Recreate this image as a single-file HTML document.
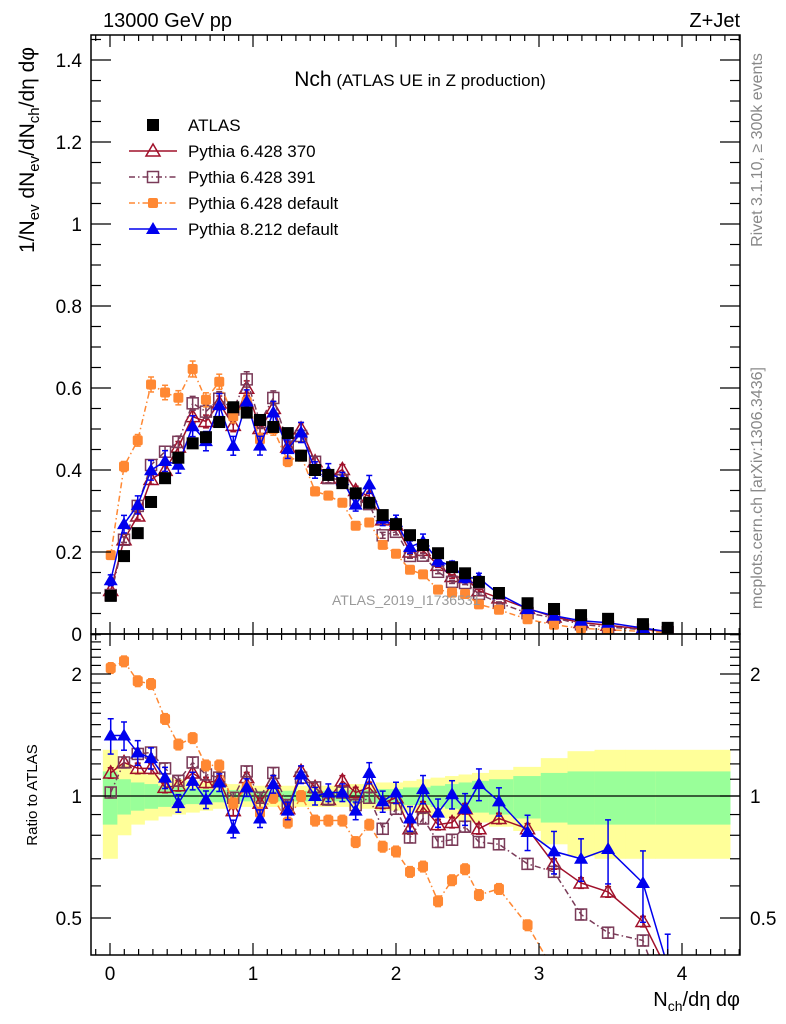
<!DOCTYPE html>
<html><head><meta charset="utf-8"><style>
body{margin:0;background:#fff}
svg{display:block;font-family:"Liberation Sans",sans-serif}
</style></head><body>
<svg id="c" width="786" height="1024" viewBox="0 0 786 1024" xmlns="http://www.w3.org/2000/svg">
<defs>
<clipPath id="cm"><rect x="91" y="35" width="649" height="599"/></clipPath>
<clipPath id="cr"><rect x="91" y="634" width="649" height="321"/></clipPath>
</defs>
<g id="bands" clip-path="url(#cr)"></g>
<g id="ratioLine"></g>
<g id="series"></g>
<g id="axes"></g>
<text x="103" y="27" font-size="20">13000 GeV pp</text>
<text x="740" y="27" font-size="20" text-anchor="end">Z+Jet</text>
<text x="420" y="86" text-anchor="middle"><tspan font-size="21">Nch</tspan><tspan font-size="17"> (ATLAS UE in Z production)</tspan></text>
<text x="332" y="605" font-size="14" fill="#999">ATLAS_2019_I1736531</text>
<text transform="translate(34,150) rotate(-90)" text-anchor="middle" font-size="21">1/N<tspan font-size="15" dy="5">ev</tspan><tspan dy="-5"> dN</tspan><tspan font-size="15" dy="5">ev</tspan><tspan dy="-5">/dN</tspan><tspan font-size="15" dy="5">ch</tspan><tspan dy="-5">/dη dφ</tspan></text>
<text transform="translate(37,795) rotate(-90)" text-anchor="middle" font-size="15">Ratio to ATLAS</text>
<text x="740" y="1006" text-anchor="end" font-size="20">N<tspan font-size="14" dy="5">ch</tspan><tspan dy="-5">/dη dφ</tspan></text>
<text transform="translate(762,150) rotate(-90)" text-anchor="middle" font-size="16" fill="#888">Rivet 3.1.10, ≥ 300k events</text>
<text transform="translate(762,488) rotate(-90)" text-anchor="middle" font-size="16" fill="#888">mcplots.cern.ch [arXiv:1306.3436]</text>
<g id="legend"></g>
</svg>
<script>
const xs=[0.005,0.098,0.194,0.287,0.385,0.478,0.578,0.671,0.764,0.862,0.956,1.049,1.142,1.243,1.336,1.434,1.527,1.625,1.718,1.813,1.907,2.0,2.098,2.189,2.294,2.392,2.483,2.58,2.72,2.92,3.105,3.294,3.483,3.727,3.9];
const atlas=[0.093,0.19,0.246,0.322,0.38,0.43,0.465,0.48,0.517,0.553,0.54,0.522,0.505,0.49,0.435,0.40,0.388,0.368,0.343,0.32,0.29,0.268,0.241,0.217,0.197,0.163,0.148,0.127,0.1,0.075,0.061,0.046,0.037,0.024,0.015];
const r370=[1.14,1.21,1.17,1.17,1.05,1.06,1.14,1.08,1.09,0.92,1.11,0.96,1.09,0.93,1.15,1.05,0.98,1.09,1.02,1.05,0.96,0.99,0.83,0.94,0.85,0.86,0.93,0.83,0.88,0.83,0.68,0.61,0.58,0.49,0.37];
const r391=[1.02,1.21,1.27,1.28,1.17,1.09,1.21,1.13,1.11,0.99,1.15,0.99,1.14,0.95,1.11,1.05,0.98,1.02,0.95,0.99,0.83,0.93,0.79,0.88,0.77,0.78,0.84,0.77,0.76,0.68,0.65,0.51,0.46,0.44,0.3];
const rdef6=[2.07,2.15,1.92,1.89,1.55,1.34,1.39,1.19,1.19,0.96,1.05,0.91,0.99,0.86,1.0,0.87,0.87,0.87,0.77,0.85,0.75,0.73,0.65,0.67,0.55,0.62,0.66,0.57,0.59,0.48,0.37,0.3,0.28,0.26,0.24];
const rp8=[1.41,1.41,1.28,1.24,1.11,0.96,1.09,0.98,1.08,0.83,1.05,0.88,1.07,0.92,1.13,1.0,1.02,1.02,0.92,1.14,0.97,1.02,0.88,1.04,0.91,1.01,0.93,1.07,0.97,0.815,0.73,0.70,0.74,0.61,0.38];
const errp8=[0.1,0.08,0.07,0.06,0.06,0.05,0.05,0.05,0.05,0.05,0.05,0.05,0.05,0.05,0.05,0.05,0.05,0.05,0.05,0.06,0.06,0.06,0.07,0.08,0.08,0.08,0.09,0.09,0.08,0.1,0.12,0.12,0.18,0.2,0.2];
const bandY=[0.3,0.2,0.15,0.13,0.11,0.1,0.09,0.08,0.07,0.07,0.06,0.06,0.06,0.06,0.06,0.06,0.06,0.06,0.07,0.07,0.08,0.08,0.09,0.1,0.11,0.12,0.13,0.14,0.16,0.18,0.24,0.29,0.3,0.3,0.3];
const bandG=[0.15,0.1,0.08,0.07,0.06,0.05,0.045,0.04,0.035,0.035,0.03,0.03,0.03,0.03,0.03,0.03,0.03,0.03,0.035,0.035,0.04,0.04,0.05,0.05,0.06,0.07,0.08,0.09,0.1,0.12,0.14,0.15,0.15,0.15,0.15];
const mainTicks=[0,0.2,0.4,0.6,0.8,1,1.2,1.4];
const ratioTicks=[0.5,1,2];
const xTicks=[0,1,2,3,4];

const NS="http://www.w3.org/2000/svg";
const sx=x=>110+143*x;
const sy=v=>634-410*v;
const ry=r=>796-122*Math.log2(r);
function mk(tag,at,parent){const e=document.createElementNS(NS,tag);for(const k in at)e.setAttribute(k,at[k]);parent.appendChild(e);return e;}
const axes=document.getElementById('axes');
const ser=document.getElementById('series');

const bands=document.getElementById('bands');
for(let i=0;i<xs.length;i++){
  const l=i==0?sx(-0.05):(sx(xs[i-1])+sx(xs[i]))/2;
  const r=i==xs.length-1?730:(sx(xs[i])+sx(xs[i+1]))/2;
  const y=mk('rect',{x:l,y:ry(1+bandY[i]),width:r-l+0.5,height:ry(1-bandY[i])-ry(1+bandY[i]),fill:'#ffff99'},bands);
  
  
  const g=mk('rect',{x:l,y:ry(1+bandG[i]),width:r-l+0.5,height:ry(1-bandG[i])-ry(1+bandG[i]),fill:'#99ff99'},bands);
  
  
}
mk('line',{x1:91,x2:740,y1:ry(1),y2:ry(1),stroke:'#000','stroke-width':1.2},document.getElementById('ratioLine'));

function marker(g,type,cx,cy,col){
  let m;
  if(type=='fsq')m=mk('rect',{x:cx-6,y:cy-6,width:12,height:12,fill:col},g);
  if(type=='osq')m=mk('rect',{x:cx-5.5,y:cy-5.5,width:11,height:11,fill:'none',stroke:col,'stroke-width':1.5},g);
  if(type=='osm')m=mk('rect',{x:cx-5,y:cy-5,width:10,height:10,rx:2,fill:col},g);
  if(type=='otri')m=mk('polygon',{points:`${cx},${cy-7} ${cx-7},${cy+5} ${cx+7},${cy+5}`,fill:'none',stroke:col,'stroke-width':1.5},g);
  if(type=='ftri')m=mk('polygon',{points:`${cx},${cy-7} ${cx-7},${cy+5} ${cx+7},${cy+5}`,fill:col},g);
  return m;
}
const defs=[
 {name:'pythia-6428-370',r:r370,col:'#a0102a',type:'otri',dash:'',err:null},
 {name:'pythia-6428-391',r:r391,col:'#7a3a58',type:'osq',dash:'6,3,1.5,3',err:null},
 {name:'pythia-6428-default',r:rdef6,col:'#ff8833',type:'osm',dash:'6,3,1.5,3',err:null},
 {name:'pythia-8212-default',r:rp8,col:'#0000ee',type:'ftri',dash:'',err:errp8}
];
const ga=mk('g',{'clip-path':'url(#cm)'},ser);


defs.forEach(d=>{
  const gm=mk('g',{'clip-path':'url(#cm)'},ser);
  
  
  const gr=mk('g',{'clip-path':'url(#cr)'},ser);
  
  
  const pm=xs.map((x,i)=>sx(x)+','+sy(atlas[i]*d.r[i])).join(' ');
  const pr=xs.map((x,i)=>sx(x)+','+ry(d.r[i])).join(' ');
  mk('polyline',{points:pm,fill:'none',stroke:d.col,'stroke-width':1.5,'stroke-dasharray':d.dash},gm);
  mk('polyline',{points:pr,fill:'none',stroke:d.col,'stroke-width':1.5,'stroke-dasharray':d.dash},gr);
  xs.forEach((x,i)=>{
    const e=d.err?d.err[i]:0.03;
    const cx=sx(x);
    const v=atlas[i]*d.r[i];
    mk('line',{x1:cx,x2:cx,y1:ry(d.r[i]*(1+e)),y2:ry(d.r[i]*(1-e)),stroke:d.col,'stroke-width':1.5},gr);
    mk('line',{x1:cx-3,x2:cx+3,y1:ry(d.r[i]*(1+e)),y2:ry(d.r[i]*(1+e)),stroke:d.col,'stroke-width':1.5},gr);
    mk('line',{x1:cx-3,x2:cx+3,y1:ry(d.r[i]*(1-e)),y2:ry(d.r[i]*(1-e)),stroke:d.col,'stroke-width':1.5},gr);
    mk('line',{x1:cx,x2:cx,y1:sy(v*(1+e)),y2:sy(v*(1-e)),stroke:d.col,'stroke-width':1.5},gm);
    mk('line',{x1:cx-3,x2:cx+3,y1:sy(v*(1+e)),y2:sy(v*(1+e)),stroke:d.col,'stroke-width':1.5},gm);
    mk('line',{x1:cx-3,x2:cx+3,y1:sy(v*(1-e)),y2:sy(v*(1-e)),stroke:d.col,'stroke-width':1.5},gm);
    const m1=marker(gm,d.type,cx,sy(v),d.col);
    
    
    const m2=marker(gr,d.type,cx,ry(d.r[i]),d.col);
    
    
  });
});
xs.forEach((x,i)=>{const m=marker(ga,'fsq',sx(x),sy(atlas[i]),'#000');

});
ser.appendChild(ga);

mk('rect',{x:91,y:35,width:649,height:599,fill:'none',stroke:'#000','stroke-width':1.5},axes);
mk('rect',{x:91,y:634,width:649,height:321,fill:'none',stroke:'#000','stroke-width':1.5},axes);
for(let k=-1;k<=44;k++){
  const x=sx(k/10);if(x<91||x>740)continue;
  const major=k%10==0;const L=major?12:6;
  [35,634].forEach(y0=>mk('line',{x1:x,x2:x,y1:y0,y2:y0+L,stroke:'#000','stroke-width':1.2},axes));
  [634,955].forEach(y0=>mk('line',{x1:x,x2:x,y1:y0,y2:y0-L,stroke:'#000','stroke-width':1.2},axes));
}
xTicks.forEach(t=>{const e=mk('text',{x:sx(t),y:980,'font-size':19,'text-anchor':'middle'},axes);e.textContent=t;

});
for(let k=0;k<=29;k++){
  const y=sy(k*0.05);if(y<35)continue;const L=k%4==0?20:10;
  mk('line',{x1:91,x2:91+L,y1:y,y2:y,stroke:'#000','stroke-width':1.2},axes);
  mk('line',{x1:740,x2:740-L,y1:y,y2:y,stroke:'#000','stroke-width':1.2},axes);
}
mainTicks.forEach(t=>{const e=mk('text',{x:82,y:sy(t)+7,'font-size':19,'text-anchor':'end'},axes);e.textContent=t;

});
for(let k=4;k<=25;k++){
  const r=k/10;const y=ry(r);if(y<634||y>955)continue;
  const L=(k==5||k==10||k==20)?20:10;
  mk('line',{x1:91,x2:91+L,y1:y,y2:y,stroke:'#000','stroke-width':1.2},axes);
  mk('line',{x1:740,x2:740-L,y1:y,y2:y,stroke:'#000','stroke-width':1.2},axes);
}
ratioTicks.forEach(t=>{
  const e=mk('text',{x:82,y:ry(t)+7,'font-size':19,'text-anchor':'end'},axes);e.textContent=t;
  
  
  const e2=mk('text',{x:750,y:ry(t)+7,'font-size':19},axes);e2.textContent=t;
  
  
});
const lg=document.getElementById('legend');
const entries=[{t:'ATLAS',type:'fsq',col:'#000',dash:null},
 {t:'Pythia 6.428 370',type:'otri',col:'#a0102a',dash:''},
 {t:'Pythia 6.428 391',type:'osq',col:'#7a3a58',dash:'6,3,1.5,3'},
 {t:'Pythia 6.428 default',type:'osm',col:'#ff8833',dash:'6,3,1.5,3'},
 {t:'Pythia 8.212 default',type:'ftri',col:'#0000ee',dash:''}];
entries.forEach((e,i)=>{
  const y=125+26*i;
  const g=mk('g',{},lg);
  
  
  if(e.dash!==null)mk('line',{x1:129,x2:177,y1:y,y2:y,stroke:e.col,'stroke-width':1.5,'stroke-dasharray':e.dash},g);
  marker(g,e.type,153,y,e.col);
  const t=mk('text',{x:188,y:y+6,'font-size':17},g);t.textContent=e.t;
});
</script>
</body></html>
